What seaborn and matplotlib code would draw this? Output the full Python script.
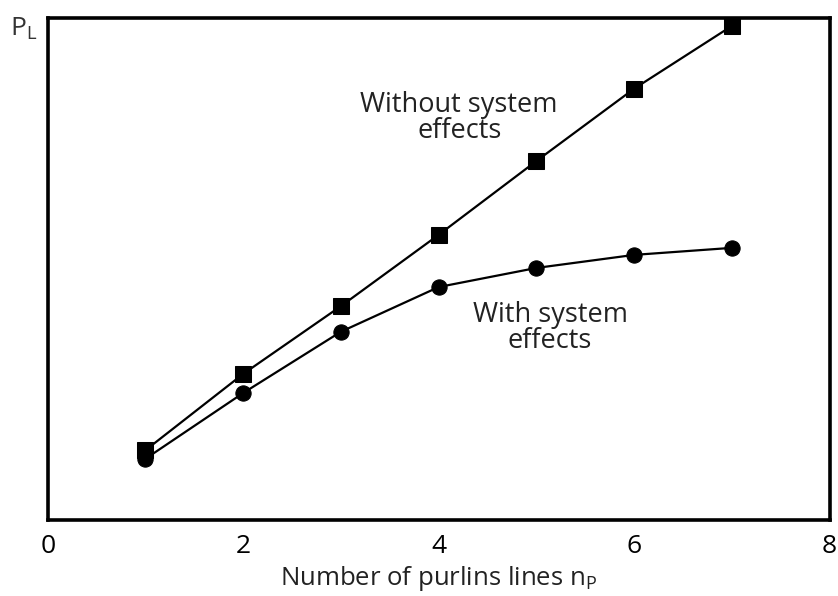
import matplotlib
matplotlib.use("Agg")
import matplotlib.pyplot as plt
import seaborn as sns
import pandas as pd

# values (y axis has no units, 0-10 scale)
n_purlins = [1, 2, 3, 4, 5, 6, 7]
without_system = [1.39, 2.91, 4.26, 5.68, 7.15, 8.59, 9.84]
with_system = [1.22, 2.53, 3.75, 4.64, 5.02, 5.28, 5.42]
x_ticks = [0, 2, 4, 6, 8]

sns.set_style("white")
plt.rcParams['font.family'] = ['Open Sans', 'DejaVu Sans']
plt.rcParams['mathtext.fontset'] = 'custom'
plt.rcParams['mathtext.rm'] = 'Open Sans'

df = pd.DataFrame({
    "n": n_purlins + n_purlins,
    "P": without_system + with_system,
    "case": ["without"] * len(n_purlins) + ["with"] * len(n_purlins),
})

fig = plt.figure(figsize=(8.38, 5.96), dpi=100)
ax = fig.add_axes([0.057, 0.1275, 0.933, 0.8425])

sns.lineplot(data=df, x="n", y="P", hue="case", style="case",
             markers={"without": "s", "with": "o"}, dashes=False,
             palette={"without": "black", "with": "black"},
             markersize=11, markeredgecolor="black", linewidth=1.6,
             legend=False, ax=ax)

ax.set_xlim(0, 8)
ax.set_ylim(0, 10)
ax.set_xticks(x_ticks)
ax.set_yticks([])
ax.tick_params(axis="x", direction="in", length=5, width=1.2, labelsize=19,
               pad=10, colors="black")
for s in ax.spines.values():
    s.set_linewidth(2.6)
    s.set_color("black")

ax.set_xlabel("Number of purlins lines n$_\\mathregular{P}$", fontsize=18.5,
              color="#222222", labelpad=4)
ax.set_ylabel("")

ax.text(4.21, 8.0, "Without system\neffects", ha="center", va="center",
        fontsize=19.5, color="#222222", linespacing=0.9)
ax.text(5.14, 3.82, "With system\neffects", ha="center", va="center",
        fontsize=19.5, color="#222222", linespacing=0.9)

fig.text(0.012, 0.94, "P$_\\mathregular{L}$", fontsize=19, color="#333333")

fig.savefig("out.png", dpi=100)
